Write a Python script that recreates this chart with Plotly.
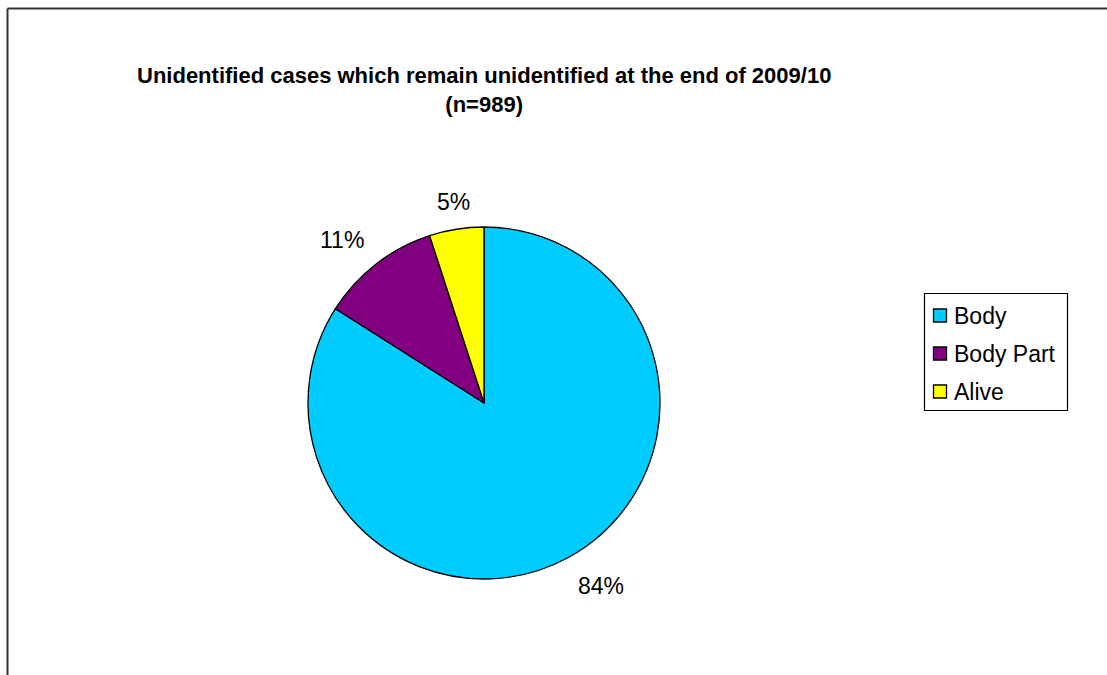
import math
import plotly.graph_objects as go

# Unidentified cases still unidentified at the end of 2009/10 (n=989)
categories = ["Body", "Body Part", "Alive"]
shares = [84, 11, 5]
slice_colors = ["#00CCFF", "#800080", "#FFFF00"]
title_lines = ["Unidentified cases which remain unidentified at the end of 2009/10", "(n=989)"]

W, H = 1107, 675
FONT = "Liberation Sans, Arial, sans-serif"
LABEL_SIZE = 23

# pie geometry in pixels
cx, cy, R = 484, 403, 176

fig = go.Figure(
    go.Pie(
        labels=categories,
        values=shares,
        sort=False,
        direction="clockwise",
        rotation=0,
        marker=dict(colors=slice_colors, line=dict(color="#000000", width=1.3)),
        textinfo="none",
        hoverinfo="label+percent",
        showlegend=False,
        domain=dict(x=[(cx - R) / W, (cx + R) / W], y=[1 - (cy + R) / H, 1 - (cy - R) / H]),
    )
)

annotations = []
# percentage labels placed just outside each slice's mid-angle
total = sum(shares)
acc = 0
for v in shares:
    mid = (acc + v / 2) / total * 2 * math.pi
    acc += v
    dx, dy = math.sin(mid), -math.cos(mid)  # dy positive = downward on screen
    r = R + 16
    px, py = cx + dx * r, cy + dy * r
    xa = "left" if dx > 0.3 else ("right" if dx < -0.3 else "center")
    ya = "top" if dy > 0.3 else ("bottom" if dy < -0.3 else "middle")
    if ya == "bottom":
        py += 4
    annotations.append(dict(
        x=px / W, y=1 - py / H, xref="paper", yref="paper",
        text=f"{round(v / total * 100)}%", showarrow=False,
        xanchor=xa, yanchor=ya, font=dict(family=FONT, size=LABEL_SIZE, color="#000000"),
    ))

# title
annotations.append(dict(
    x=483.5 / W, y=1 - 90 / H, xref="paper", yref="paper",
    text="<b>" + "<br>".join(title_lines) + "</b>", showarrow=False,
    xanchor="center", yanchor="middle", align="center",
    font=dict(family=FONT, size=22, color="#000000"),
))

shapes = [
    # chart frame (top and left edges)
    dict(type="line", xref="paper", yref="paper", x0=7.5 / W, x1=1.0, y0=1 - 8.5 / H, y1=1 - 8.5 / H,
         line=dict(color="#333333", width=2)),
    dict(type="line", xref="paper", yref="paper", x0=7.5 / W, x1=7.5 / W, y0=0, y1=1 - 8.5 / H,
         line=dict(color="#333333", width=2)),
    # legend frame
    dict(type="rect", xref="paper", yref="paper", x0=924.5 / W, x1=1067.5 / W,
         y0=1 - 410.5 / H, y1=1 - 293.5 / H, line=dict(color="#000000", width=1.2),
         fillcolor="rgba(0,0,0,0)"),
]

# legend entries
for i, (lab, col) in enumerate(zip(categories, slice_colors)):
    yc = 315.5 + i * 38
    shapes.append(dict(type="rect", xref="paper", yref="paper",
                       x0=933.5 / W, x1=946.5 / W, y0=1 - (yc + 6.5) / H, y1=1 - (yc - 6.5) / H,
                       line=dict(color="#000000", width=1.3), fillcolor=col))
    annotations.append(dict(
        x=952 / W, y=1 - yc / H, xref="paper", yref="paper", text=lab, showarrow=False,
        xanchor="left", yanchor="middle", font=dict(family=FONT, size=LABEL_SIZE, color="#000000"),
    ))

fig.update_layout(
    width=W, height=H,
    margin=dict(l=0, r=0, t=0, b=0),
    paper_bgcolor="#FFFFFF", plot_bgcolor="#FFFFFF",
    annotations=annotations, shapes=shapes,
    showlegend=False,
)

fig.write_html("out.html")
